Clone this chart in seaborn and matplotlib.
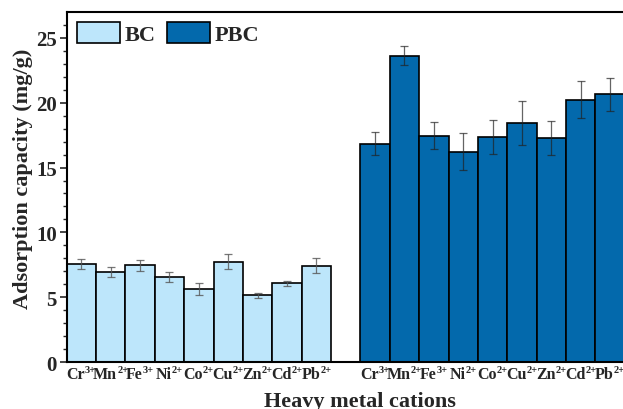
import numpy as np
import pandas as pd
import seaborn as sns
import matplotlib
matplotlib.use("Agg")
import matplotlib.pyplot as plt
from matplotlib.patches import Patch

# ---- data ----
cations = ["Cr", "Mn", "Fe", "Ni", "Co", "Cu", "Zn", "Cd", "Pb"]
charges = ["3+", "2+", "3+", "2+", "2+", "2+", "2+", "2+", "2+"]
bc_values = [7.56, 6.95, 7.46, 6.56, 5.62, 7.74, 5.15, 6.08, 7.41]
bc_errors = [0.36, 0.36, 0.42, 0.36, 0.44, 0.59, 0.20, 0.20, 0.58]
pbc_values = [16.85, 23.64, 17.46, 16.23, 17.36, 18.44, 17.28, 20.23, 20.64]
pbc_errors = [0.86, 0.73, 1.04, 1.41, 1.29, 1.72, 1.31, 1.41, 1.24]

sns.set_style("ticks")
plt.rcParams["font.family"] = ["Liberation Serif", "DejaVu Serif"]
plt.rcParams["font.weight"] = "bold"

DPI = 100
fig = plt.figure(figsize=(6.23, 4.10), dpi=DPI)
ax = fig.add_axes([0.107, 0.1146, 0.943, 0.8537])

n = len(cations)
pos_bc = np.arange(n)
pos_pbc = np.arange(n) + n + 1

c_bc = "#BDE6FB"
c_pbc = "#0369AC"

df_bc = pd.DataFrame({"x": pos_bc, "y": bc_values})
df_pbc = pd.DataFrame({"x": pos_pbc, "y": pbc_values})

sns.barplot(data=df_bc, x="x", y="y", native_scale=True, width=1, color=c_bc,
            saturation=1, edgecolor="black", linewidth=1.2, errorbar=None, ax=ax)
sns.barplot(data=df_pbc, x="x", y="y", native_scale=True, width=1, color=c_pbc,
            saturation=1, edgecolor="black", linewidth=1.2, errorbar=None, ax=ax)

ax.errorbar(pos_bc, bc_values, yerr=bc_errors, fmt="none", ecolor="#555555",
            elinewidth=0.9, capsize=3, capthick=0.9, alpha=0.8)
ax.errorbar(pos_pbc, pbc_values, yerr=pbc_errors, fmt="none", ecolor="#222222",
            elinewidth=0.9, capsize=3, capthick=0.9, alpha=0.7)

ax.set_xlim(-0.5, 19.5)
ax.set_ylim(0, 27)
ax.set_yticks([0, 5, 10, 15, 20, 25])
ax.set_yticks(np.arange(0, 27, 1), minor=True)

ax.set_xticks(list(pos_bc) + list(pos_pbc))
ax.set_xticklabels([])
ax.tick_params(axis="x", length=0)
ax.tick_params(axis="y", which="major", length=5, width=1.2, labelsize=15, pad=2)
ax.tick_params(axis="y", which="minor", length=3, width=1.0)
for lab in ax.get_yticklabels():
    lab.set_fontweight("bold")

for s in ax.spines.values():
    s.set_linewidth(1.5)
    s.set_color("black")

ax.set_xlabel("Heavy metal cations", fontsize=16, fontweight="bold")
ax.xaxis.set_label_coords(0.5, -0.082)
ax.set_ylabel("Adsorption capacity (mg/g)", fontsize=16, fontweight="bold")
ax.yaxis.set_label_coords(-0.057, 0.526)

handles = [Patch(facecolor=c_bc, edgecolor="black", linewidth=1.2, label="BC"),
           Patch(facecolor=c_pbc, edgecolor="black", linewidth=1.2, label="PBC")]
ax.legend(handles=handles, loc="upper left", ncol=2, frameon=False,
          prop={"family": "Liberation Serif", "weight": "bold", "size": 16},
          handlelength=1.95, handleheight=1.1, handletextpad=0.2,
          columnspacing=0.5, borderaxespad=0.25, borderpad=0.2)

# ---- x tick labels with superscript charges ----
fig.canvas.draw()
renderer = fig.canvas.get_renderer()
BASE_FS, SUP_FS = 11.5, 7.5


def text_width_pt(s, fs):
    t = fig.text(0, 0, s, fontsize=fs, fontweight="bold")
    w = t.get_window_extent(renderer).width * 72.0 / DPI
    t.remove()
    return w


for group in (pos_bc, pos_pbc):
    for x, c, q in zip(group, cations, charges):
        wb = text_width_pt(c, BASE_FS)
        ws = text_width_pt(q, SUP_FS)
        start = -(wb + ws) / 2.0
        ax.annotate(c, xy=(x, 0), xycoords=("data", "axes fraction"),
                    xytext=(start, -11.5), textcoords="offset points",
                    ha="left", va="baseline", fontsize=BASE_FS,
                    fontweight="bold", annotation_clip=False)
        ax.annotate(q, xy=(x, 0), xycoords=("data", "axes fraction"),
                    xytext=(start + wb, -7.4), textcoords="offset points",
                    ha="left", va="baseline", fontsize=SUP_FS,
                    fontweight="bold", annotation_clip=False)

fig.savefig("out.png", dpi=DPI)
